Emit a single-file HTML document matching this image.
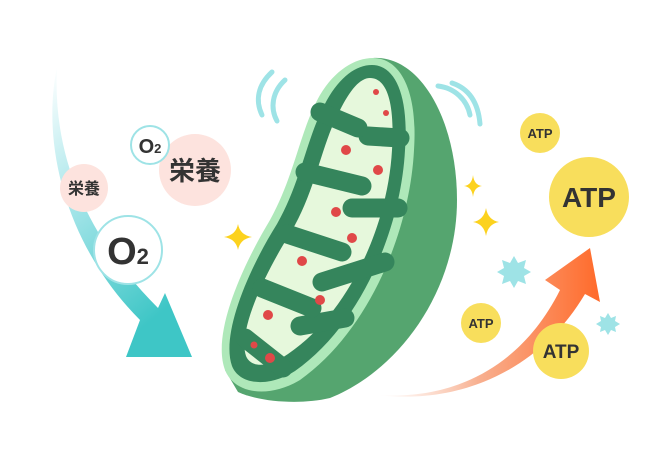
<!DOCTYPE html>
<html><head><meta charset="utf-8"><style>
html,body{margin:0;padding:0;background:#fff;}
svg{display:block}
text{font-family:"Liberation Sans","Noto Sans CJK JP",sans-serif;fill:#333;font-weight:bold;text-anchor:middle}
</style></head><body>
<svg width="670" height="460" viewBox="0 0 670 460" xmlns="http://www.w3.org/2000/svg">
<defs>
<linearGradient id="cy" x1="0" y1="0" x2="0.4" y2="1">
<stop offset="0" stop-color="#ffffff"/><stop offset="0.45" stop-color="#a8e6ea"/><stop offset="1" stop-color="#3ec6c6"/></linearGradient>
<linearGradient id="or" x1="0" y1="0" x2="1" y2="0">
<stop offset="0" stop-color="#ffffff" stop-opacity="0.6"/><stop offset="0.45" stop-color="#f8b090"/><stop offset="1" stop-color="#ff6a2a"/></linearGradient>
</defs>
<path d="M57,67 C40,150 70,250 140,320 L126,357 L192,357 L165,293 L158,308 C90,240 52,160 57,67 Z" fill="url(#cy)"/>
<path d="M378,395 C450,400 520,370 560,290 L545,280 L590,248 L600,302 L585,294 C540,370 460,405 378,395 Z" fill="url(#or)"/>
<circle cx="195" cy="170" r="36" fill="#fde3de"/>
<text x="195" y="180" font-size="26" font-weight="normal">栄養</text>
<circle cx="150" cy="145" r="19" fill="#fff" stroke="#9ee3e6" stroke-width="2"/>
<text x="150" y="153" font-size="20" font-weight="normal">O<tspan font-size="13">2</tspan></text>
<circle cx="84" cy="188" r="24" fill="#fde3de"/>
<text x="84" y="194" font-size="16" font-weight="normal">栄養</text>
<circle cx="128" cy="250" r="34" fill="#fff" stroke="#9ee3e6" stroke-width="2"/>
<text x="128" y="264" font-size="38" font-weight="normal">O<tspan font-size="22">2</tspan></text>
<g fill="none" stroke="#9ee3e6" stroke-width="5" stroke-linecap="round">
<path d="M272,72 C258,85 255,100 262,115"/>
<path d="M285,80 C272,92 270,108 277,121"/>
<path d="M438,86 C455,88 467,100 470,115"/>
<path d="M452,83 C467,88 478,100 480,124"/>
</g>
<g fill="#fcd21e">
<path d="M238,224 Q240,235 252,237 Q240,239 238,250 Q236,239 224,237 Q236,235 238,224 Z"/>
<path d="M473,175 Q474,185 482,186 Q474,187 473,197 Q472,187 464,186 Q472,185 473,175 Z"/>
<path d="M486,208 Q488,220 499,222 Q488,224 486,236 Q484,224 473,222 Q484,220 486,208 Z"/>
</g>
<g fill="#9ee3e6">
<polygon points="514,256 518,263 526,260 524,268 531,272 524,276 526,284 518,281 514,288 510,281 502,284 504,276 497,272 504,268 502,260 510,263"/>
<polygon points="608,313 611,318 616,316 615,321 620,324 615,327 616,332 611,330 608,335 605,330 600,332 601,327 596,324 601,321 600,316 605,318"/>
</g>
<g fill="#f8de5c">
<circle cx="540" cy="133" r="20"/><circle cx="589" cy="197" r="40"/>
<circle cx="481" cy="323" r="20"/><circle cx="561" cy="351" r="28"/>
</g>
<text x="540" y="138" font-size="13">ATP</text>
<text x="589" y="207" font-size="28">ATP</text>
<text x="481" y="328" font-size="13">ATP</text>
<text x="561" y="358" font-size="19">ATP</text>
<path d="M373,58 C420,55 457,120 457,200 C457,290 400,370 330,398 C300,405 260,402 238,392 L225,370 Z" fill="#55a56f"/>
<path d="M373,58 C400,58 418,90 414,150 C410,230 370,330 300,380 C270,398 235,395 225,370 C212,335 240,270 270,220 C295,175 300,130 320,95 C335,70 355,58 373,58 Z" fill="#aee8b9"/>
<path d="M372,65 C395,65 409,95 405,150 C401,228 361,325 295,371 C270,387 240,386 232,366 C221,335 247,272 277,224 C302,180 307,135 327,100 C340,77 356,65 372,65 Z" fill="#35855c"/>
<path d="M370,78 C386,78 395,100 392,150 C388,224 350,312 288,354 C268,368 251,368 246,356 C238,332 262,278 291,232 C316,190 321,145 340,110 C350,90 360,78 370,78 Z" fill="#e6f8dc"/>
<g stroke="#35855c" stroke-width="19" stroke-linecap="round" fill="none">
<path d="M400,138 L368,136"/>
<path d="M398,208 L352,208"/>
<path d="M385,262 L322,282"/>
<path d="M345,318 L300,326"/>
<path d="M320,112 L358,128"/>
<path d="M305,172 L362,186"/>
<path d="M287,234 L342,252"/>
<path d="M262,288 L312,308"/>
<path d="M245,338 L283,368"/>
</g>
<g fill="#e04848">
<circle cx="376" cy="92" r="3"/><circle cx="386" cy="113" r="3"/><circle cx="346" cy="150" r="5"/>
<circle cx="378" cy="170" r="5"/><circle cx="336" cy="212" r="5"/><circle cx="302" cy="261" r="5"/>
<circle cx="352" cy="238" r="5"/><circle cx="268" cy="315" r="5"/><circle cx="320" cy="300" r="5"/>
<circle cx="254" cy="345" r="3.5"/><circle cx="270" cy="358" r="5"/>
</g>
</svg>
</body></html>
